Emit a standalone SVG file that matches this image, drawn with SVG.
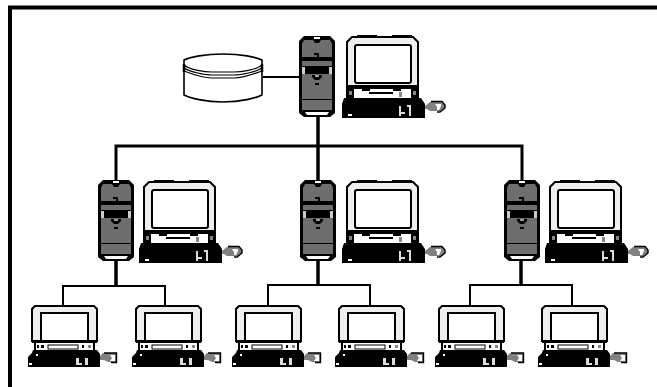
<svg xmlns="http://www.w3.org/2000/svg" width="657" height="387" viewBox="0 0 657 387">
<style>
.ln{fill:none;stroke:#000}
.g{fill:#6e6e6e}
.k{fill:#000}
.w{fill:#fff}
.lg{fill:#efefef;stroke:#000;stroke-width:2}
.scr{fill:#fff;stroke:#000;stroke-width:2}
.key{fill:#ddd}
.soft{filter:url(#soft)}
</style>
<defs>
<filter id="soft" x="0" y="0" width="1" height="1" filterUnits="objectBoundingBox"><feGaussianBlur stdDeviation="0.45"/></filter>
<g id="tower">
<path d="M5 0H31L36 5V77L31 81H5L0 77V5Z" class="k"/>
<path d="M3 8L5 4H14L16 7H20L22 4H31L33 8V21H3Z" class="g"/>
<rect x="3" y="25" width="30" height="5" class="g"/>
<rect x="3" y="31" width="3" height="7" fill="#ccc"/>
<rect x="30" y="31" width="3" height="7" fill="#ccc"/>
<rect x="3" y="38" width="30" height="25" class="g"/>
<rect x="3" y="64" width="30" height="10" class="g"/>
<path d="M15 17h5v4h-2v-2h-3z" class="k"/>
<path d="M13 39h10v2l-3 3h-4l-3-3z" class="k"/><path d="M16 39h4v2h-4z" fill="#999"/>
<rect x="16" y="47" width="4" height="2" class="k"/>
<rect x="15" y="1" width="6" height="2" class="w"/>
<path d="M6 76H30L28 79H8Z" class="w"/>
</g>
<g id="large-ws">
<path d="M5 1H66L71 6V50H0V6Z" class="lg"/>
<rect x="8" y="9" width="56" height="38" rx="2" class="scr"/>
<path d="M10 0H30M45 0H65" stroke="#000" stroke-width="2"/>
<rect x="-1" y="50" width="73" height="12" class="w"/>
<path d="M-1 49H72V53H-1Z" class="k"/>
<rect x="-1" y="53" width="8" height="9" class="k"/><rect x="64" y="53" width="8" height="9" class="k"/>
<rect x="2" y="55" width="3" height="4" fill="#888"/><rect x="66" y="55" width="3" height="4" fill="#888"/>
<rect x="15" y="53" width="8" height="2" class="k"/><rect x="46" y="53" width="8" height="2" class="k"/>
<rect x="22" y="56" width="24" height="2" class="k"/><rect x="52" y="56" width="3" height="5" fill="#888"/>
<path d="M-3 62H74L78 68V82H-5V68Z" class="k"/>
<rect x="1" y="78" width="4" height="2" class="w"/><rect x="52" y="70" width="2" height="10" class="key"/><rect x="62" y="69" width="2" height="11" class="key"/><rect x="54" y="76" width="4" height="2" class="key"/><rect x="60" y="69" width="4" height="2" class="key"/>
<path d="M78 70L83 66H95L98 69V72L94 75H83L80 73H78Z" fill="#808080"/>
<path d="M88 68h6v2l-2 4h-2v-3z" class="w"/>
<path d="M84 65.500H95L98 69V72L93 76H90" fill="none" stroke="#000" stroke-width="1.400"/>
</g>
<g id="small-ws">
<path d="M3 1H62L65 4V36H0V4Z" class="lg"/>
<rect x="9" y="8" width="47" height="28" fill="#fff" stroke="#000" stroke-width="2"/>
<rect x="0" y="37" width="65" height="8" class="w"/>
<rect x="0" y="35" width="65" height="3" class="k"/>
<rect x="2" y="38" width="2" height="7" class="k"/>
<rect x="61" y="38" width="2" height="7" class="k"/>
<rect x="5" y="40" width="2" height="3" class="k"/><rect x="9" y="40" width="3" height="3" class="k"/>
<rect x="16" y="40" width="30" height="4" class="w" stroke="#000"/>
<rect x="50" y="40" width="2" height="3" class="k"/><rect x="56" y="40" width="3" height="3" fill="#888"/>
<path d="M1 45H65L68 49V62H-4V52L0 48Z" class="k"/>
<rect x="4" y="49" width="2" height="2" class="w"/><rect x="-3" y="58" width="3" height="2" class="w"/>
<rect x="44" y="53" width="3" height="7" class="key"/><rect x="53" y="53" width="3" height="7" class="key"/><rect x="47" y="58" width="3" height="2" class="key"/>
<path d="M68 51L71 48H84V57H76L72 55H68Z" fill="#808080"/>
<path d="M78 50h5v6h-5l2-3z" class="w"/>
<path d="M72 48H84.500V57.500H79" fill="none" stroke="#000" stroke-width="1.400"/>
</g>
</defs>
<g class="soft">
<rect x="0" y="0" width="657" height="387" fill="#fff"/>
<path id="frame" d="M10 387V7.500H657" fill="none" stroke="#000" stroke-width="4"/>
<g id="connectors" class="ln">
<path d="M263 77H299" stroke-width="1.800"/>
<path d="M318 117V180" stroke-width="3.500"/>
<path d="M116 180V146H522V180" stroke-width="3"/>
<path d="M116 261V286" stroke-width="3.500"/><path d="M318 261V285" stroke-width="3.500"/><path d="M521 261V285" stroke-width="3.500"/>
<path d="M63 305V286H165V305" stroke-width="2"/>
<path d="M268 305V285H370V305" stroke-width="2"/>
<path d="M470 305V285H572V305" stroke-width="2"/>
</g>
<g id="database">
<path d="M184 60C190 57 205 54 223 54C241 54 256 57 262 60V95C256 98 241 102 223 102C205 102 190 98 184 95Z" fill="#fff" stroke="#000" stroke-width="1.600"/>
<path d="M184 65C190 70 205 72 212 72H234C241 72 256 70 262 65M184 68C190 72 205 75 212 75H234C241 75 256 72 262 68M184 71C192 74 205 78 212 78H234C241 78 254 74 262 71" fill="none" stroke="#000" stroke-width="1.200"/>
<path d="M184 64V72M262 64V72" stroke="#000" stroke-width="2.500"/>
</g>
<g id="main-tower"><use href="#tower" x="299" y="36"/></g>
<g id="main-workstation"><use href="#large-ws" x="347" y="36"/></g>
<g id="tower-1"><use href="#tower" x="98" y="180"/></g>
<g id="workstation-1"><use href="#large-ws" x="144" y="181"/></g>
<g id="tower-2"><use href="#tower" x="300" y="180"/></g>
<g id="workstation-2"><use href="#large-ws" x="347" y="181"/></g>
<g id="tower-3"><use href="#tower" x="504" y="180"/></g>
<g id="workstation-3"><use href="#large-ws" x="550" y="181"/></g>
<g id="client-1"><use href="#small-ws" x="32" y="305"/></g>
<g id="client-2"><use href="#small-ws" x="136" y="305"/></g>
<g id="client-3"><use href="#small-ws" x="236" y="305"/></g>
<g id="client-4"><use href="#small-ws" x="339" y="305"/></g>
<g id="client-5"><use href="#small-ws" x="439" y="305"/></g>
<g id="client-6"><use href="#small-ws" x="542" y="305"/></g>
</g>
</svg>
